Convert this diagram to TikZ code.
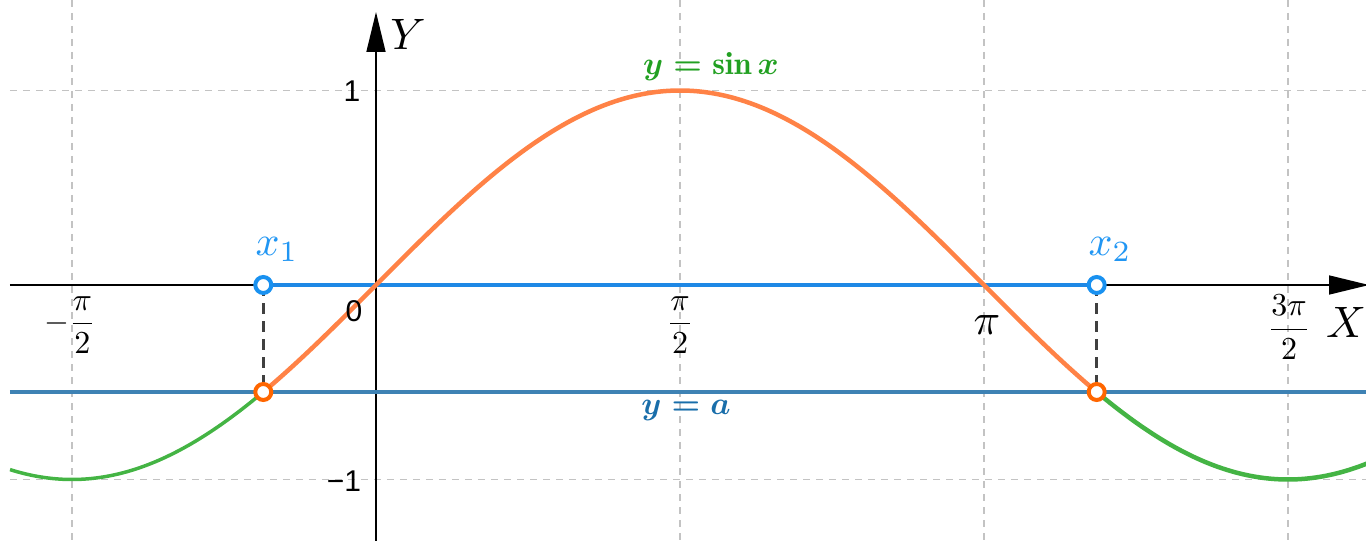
\documentclass[tikz,border=0pt]{standalone}
\usepackage{amsmath}
\usepackage{fontspec}
\newfontfamily\tickfont{Liberation Sans}
\usetikzlibrary{arrows.meta}
\definecolor{curveorange}{RGB}{255,130,70}
\definecolor{ptorange}{RGB}{255,102,0}
\definecolor{curvegreen}{RGB}{68,180,68}
\definecolor{textgreen}{RGB}{34,160,34}
\definecolor{segblue}{RGB}{30,136,229}
\definecolor{ptblue}{RGB}{25,145,240}
\definecolor{lblblue}{RGB}{33,150,243}
\definecolor{aline}{RGB}{62,130,180}
\definecolor{atext}{RGB}{25,110,170}
\definecolor{gridgray}{RGB}{195,195,195}
\definecolor{dropgray}{RGB}{64,64,64}
\tikzset{
  gridline/.style={gridgray, line width=1.2pt, dash pattern=on 7pt off 6pt},
  axisline/.style={black, line width=1.6pt, -{Triangle[length=40pt,width=19pt]}},
  dropline/.style={dropgray, line width=3.5pt, dash pattern=on 11pt off 7pt},
  opendot/.style={circle, draw, fill=white, line width=4pt, minimum size=16pt, inner sep=0pt},
  ticklbl/.style={font=\tickfont\fontsize{30}{36}\selectfont, inner sep=0pt},
  fraclbl/.style={scale=3.2, inner sep=0pt},
  biglbl/.style={scale=4.4, inner sep=0pt},
  eqlbl/.style={font=\boldmath, scale=3.2, inner sep=0pt}
}
\begin{document}
\begin{tikzpicture}[x=1pt,y=1pt]
\useasboundingbox (-376,-256) rectangle (990,285);
% grid
\coordinate (gl1) at (-366,194.5); \coordinate (gr1) at (990,194.5);
\coordinate (gl2) at (-366,-194.5); \coordinate (gr2) at (990,-194.5);
\draw[gridline] (gl1) -- (gr1);
\draw[gridline] (gl2) -- (gr2);
\foreach \gx/\gn in {-304/a,304/b,608/c,912/d}{
  \coordinate (gt\gn) at (\gx,285); \coordinate (gb\gn) at (\gx,-256);
  \draw[gridline] (gt\gn) -- (gb\gn);
}
% axes
\coordinate (xs) at (-366,0); \coordinate (xe) at (993,0);
\coordinate (ys) at (0,-256); \coordinate (ye) at (0,273);
\draw[axisline] (xs) -- (xe);
\draw[axisline] (ys) -- (ye);
% y = a line
\coordinate (as) at (-366,-106.98); \coordinate (ae) at (990,-106.98);
\draw[aline, line width=4pt] (as) -- (ae);
% points
\coordinate (P1) at (-112.71,0); \coordinate (P2) at (720.7,0);
\coordinate (Q1) at (-112.71,-106.98); \coordinate (Q2) at (720.7,-106.98);
\draw[segblue, line width=3.5pt] (P1) -- (P2);
\draw[dropline] (P1) -- (Q1);
\draw[dropline] (P2) -- (Q2);
% curves
\draw[curvegreen, line width=3.5pt, samples=60, domain=-1.891:-0.5824, smooth]
  plot ({\x*193.53},{194.5*sin(\x r)});
\draw[curvegreen, line width=4.5pt, samples=60, domain=3.7240:5.13, smooth]
  plot ({\x*193.53},{194.5*sin(\x r)});
\draw[curveorange, line width=4.5pt, samples=150, domain=-0.5824:3.7240, smooth]
  plot ({\x*193.53},{194.5*sin(\x r)});
% dots
\node[opendot, draw=ptblue] (p1) at (P1) {};
\node[opendot, draw=ptblue] (p2) at (P2) {};
\node[opendot, draw=ptorange] (q1) at (Q1) {};
\node[opendot, draw=ptorange] (q2) at (Q2) {};
% labels
\node[ticklbl] (t1) at (-24,194) {1};
\node[ticklbl] (tm1) at (-32,-196) {−1};
\node[ticklbl] (t0) at (-22,-26) {0};
\node[fraclbl] (fa) at (-306,-40) {$-\dfrac{\pi}{2}$};
\node[fraclbl] (fb) at (304,-40) {$\dfrac{\pi}{2}$};
\node[biglbl] (fc) at (611,-40) {$\pi$};
\node[fraclbl] (fd) at (913,-42) {$\dfrac{3\pi}{2}$};
\node[biglbl] (lx) at (970,-37) {$X$};
\node[biglbl] (ly) at (32,251) {$Y$};
\node[scale=4.2, inner sep=0pt, text=lblblue] (n1) at (-99,35.5) {$x_1$};
\node[scale=4.2, inner sep=0pt, text=lblblue] (n2) at (734,35.5) {$x_2$};
\node[eqlbl, text=textgreen] (es) at (335,218.5) {$y=\sin x$};
\node[eqlbl, text=atext] (ea) at (310,-125) {$y=a$};
\end{tikzpicture}
\end{document}
